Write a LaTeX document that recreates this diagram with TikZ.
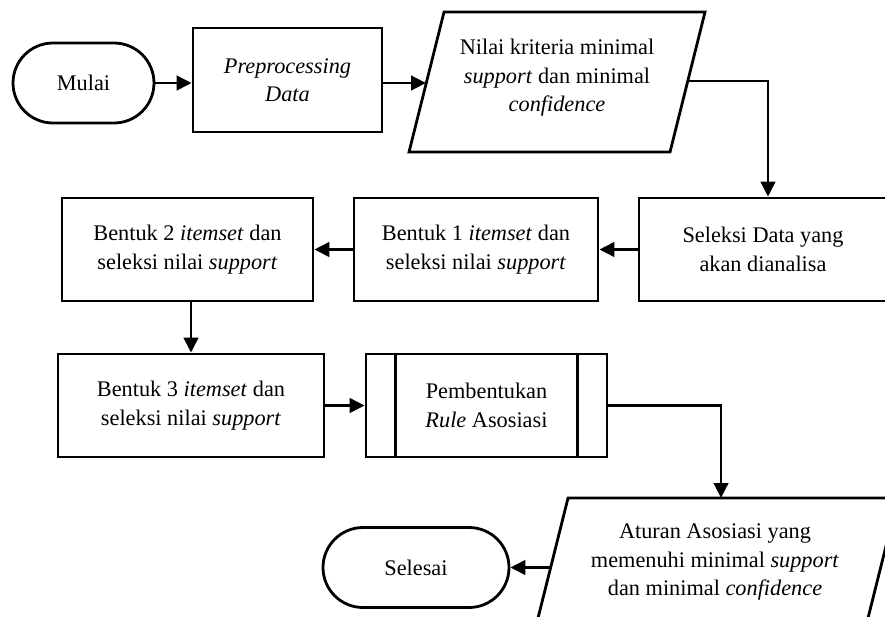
\documentclass[tikz,border=0pt]{standalone}
\usepackage{fontspec}
\setmainfont{Liberation Serif}
\usetikzlibrary{arrows.meta,shapes.misc}
\begin{document}
\begin{tikzpicture}[x=1pt,y=-1pt,
  line width=2.8pt,
  txt/.style={font=\fontsize{22.3}{28.5}\selectfont, align=center, inner sep=0pt},
  box/.style={txt, draw, rectangle, minimum height=103pt},
  term/.style={txt, draw, rounded rectangle, minimum height=80pt},
  arr/.style={-{Triangle[length=15pt,width=14.5pt]}, line width=2.8pt},
  io/.style={draw, line join=miter}
]
\useasboundingbox (0,0) rectangle (885,616);
\clip (0,0) rectangle (885,616);

% start terminal and preprocessing
\node[term, minimum width=141pt] (mulai) at (83.5,83) {Mulai};
\node[box, minimum width=189pt, minimum height=104pt] (prep) at (287.5,80) {\textit{Preprocessing}\\\textit{Data}};

% input: minimum support and confidence
\draw[io] (409,152) -- (444,12) -- (705,12) -- (670,152) -- cycle;
\node[txt] (nilai) at (557,78) {Nilai kriteria minimal\\\textit{support} dan minimal\\\textit{confidence}};
\coordinate (p1in) at (426,83);
\coordinate (p1out) at (688,81);

% processing row
\node[box, minimum width=248pt] (seleksi) at (763,249.5) {Seleksi Data yang\\akan dianalisa};
\node[box, minimum width=244pt] (b1) at (476,249.5) {Bentuk 1 \textit{itemset} dan\\seleksi nilai \textit{support}};
\node[box, minimum width=251pt] (b2) at (187.5,249.5) {Bentuk 2 \textit{itemset} dan\\seleksi nilai \textit{support}};
\node[box, minimum width=266pt] (b3) at (191,405.5) {Bentuk 3 \textit{itemset} dan\\seleksi nilai \textit{support}};

% predefined process
\node[box, minimum width=241pt] (pemb) at (486.5,405.5) {Pembentukan\\\textit{Rule} Asosiasi};
\draw ([xshift=31pt]pemb.north west) -- ([xshift=31pt]pemb.south west);
\draw ([xshift=-31pt]pemb.north east) -- ([xshift=-31pt]pemb.south east);

% output: association rules
\draw[io] (533,638) -- (568,498) -- (898,498) -- (863,638) -- cycle;
\node[txt] (aturan) at (715,562) {Aturan Asosiasi yang\\memenuhi minimal \textit{support}\\dan minimal \textit{confidence}};
\coordinate (p2in) at (721,498);
\coordinate (p2out) at (550.5,567.5);

% end terminal
\node[term, minimum width=186pt] (selesai) at (416,567.5) {Selesai};

% connectors
\draw[arr] (mulai.east) -- (mulai.east -| prep.west);
\draw[arr] (prep.east |- mulai.east) -- (p1in);
\draw[arr, line join=miter] (p1out) -| ([xshift=5pt]seleksi.north);
\draw[arr] (seleksi.west) -- (b1.east);
\draw[arr] (b1.west) -- (b2.east);
\draw[arr] (b2.south -| b3.north) -- (b3.north);
\draw[arr] (b3.east) -- (pemb.west);
\draw[arr, line join=miter] (pemb.east) -| (p2in);
\draw[arr] (p2out) -- (selesai.east);
\end{tikzpicture}
\end{document}
